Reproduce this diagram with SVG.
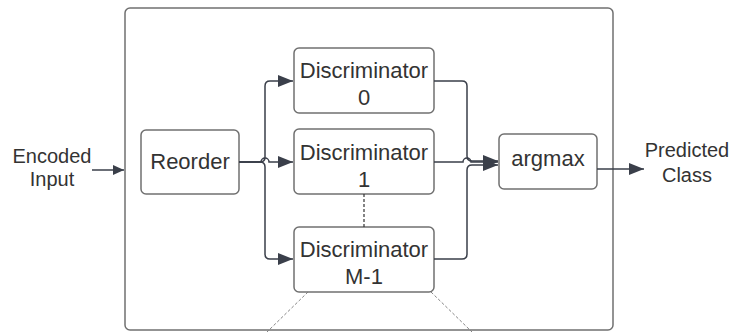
<svg xmlns="http://www.w3.org/2000/svg" width="736" height="332" viewBox="0 0 736 332">
<style>
.box{fill:#fff;stroke:#707070;stroke-width:1.5}
.lbl{font-family:"Liberation Sans",Arial,sans-serif;font-size:22px;fill:#333;text-anchor:middle}
.side{font-family:"Liberation Sans",Arial,sans-serif;font-size:20px;fill:#333;text-anchor:middle}
.con{fill:none;stroke:#3a3f4a;stroke-width:1.5}
.dash{fill:none;stroke:#333;stroke-width:1.2;stroke-dasharray:3 2}
.dot{fill:none;stroke:#777;stroke-width:0.9;stroke-dasharray:3 2}
</style>
<defs>
<marker id="ah" markerWidth="16" markerHeight="12" refX="15" refY="6" orient="auto" markerUnits="userSpaceOnUse">
<path d="M0,0 L15,6 L0,12 Z" fill="#3a3f4a"/>
</marker>
<marker id="ahs" markerWidth="12" markerHeight="10" refX="11" refY="5" orient="auto" markerUnits="userSpaceOnUse">
<path d="M0,0 L11,5 L0,10 Z" fill="#3a3f4a"/>
</marker>
</defs>
<rect width="736" height="332" fill="#fff"/>
<g id="outer"><rect class="box" x="125" y="8" width="488" height="322" rx="5"/></g>
<g id="input"><text class="side" x="52" y="163">Encoded</text><text class="side" x="52" y="186">Input</text></g>
<g id="reorder"><rect class="box" x="141" y="130" width="98" height="64" rx="5"/><text class="lbl" x="190" y="169">Reorder</text></g>
<g id="disc0"><rect class="box" x="294" y="48" width="140" height="65" rx="5"/><text class="lbl" x="364" y="78">Discriminator</text><text class="lbl" x="364" y="105">0</text></g>
<g id="disc1"><rect class="box" x="294" y="129" width="140" height="65" rx="5"/><text class="lbl" x="364" y="160">Discriminator</text><text class="lbl" x="364" y="187">1</text></g>
<g id="discM"><rect class="box" x="294" y="227" width="140" height="65" rx="5"/><text class="lbl" x="364" y="257">Discriminator</text><text class="lbl" x="364" y="284">M-1</text></g>
<g id="argmax"><rect class="box" x="499" y="134" width="98" height="55" rx="5"/><text class="lbl" x="548" y="166">argmax</text></g>
<g id="output"><text class="side" x="687" y="157">Predicted</text><text class="side" x="687" y="182">Class</text></g>
<g id="connectors">
<path class="con" d="M92,170 H124" marker-end="url(#ahs)"/>
<path class="con" d="M239,162 H260 Q265,162 265,157 V86 Q265,81 270,81 H293" marker-end="url(#ah)"/>
<path class="con" d="M239,162 H261 A4,4 0 0 1 269,162 H293" marker-end="url(#ah)"/>
<path class="con" d="M239,162 H260 Q265,162 265,167 V254 Q265,259 270,259 H293" marker-end="url(#ah)"/>
<path class="con" d="M434,81 H462 Q467,81 467,86 V156 Q467,161 472,161 H498" marker-end="url(#ah)"/>
<path class="con" d="M434,162 H463 A4,4 0 0 1 471,162 H498" marker-end="url(#ah)"/>
<path class="con" d="M434,259 H462 Q467,259 467,254 V170 Q467,165 472,165 H498" marker-end="url(#ah)"/>
<path class="con" d="M597,169 H644" marker-end="url(#ah)"/>
<path class="dash" d="M364,194 V227"/>
<path class="dot" d="M308,292 L267,332"/>
<path class="dot" d="M431,292 L472,332"/>
</g>
</svg>
